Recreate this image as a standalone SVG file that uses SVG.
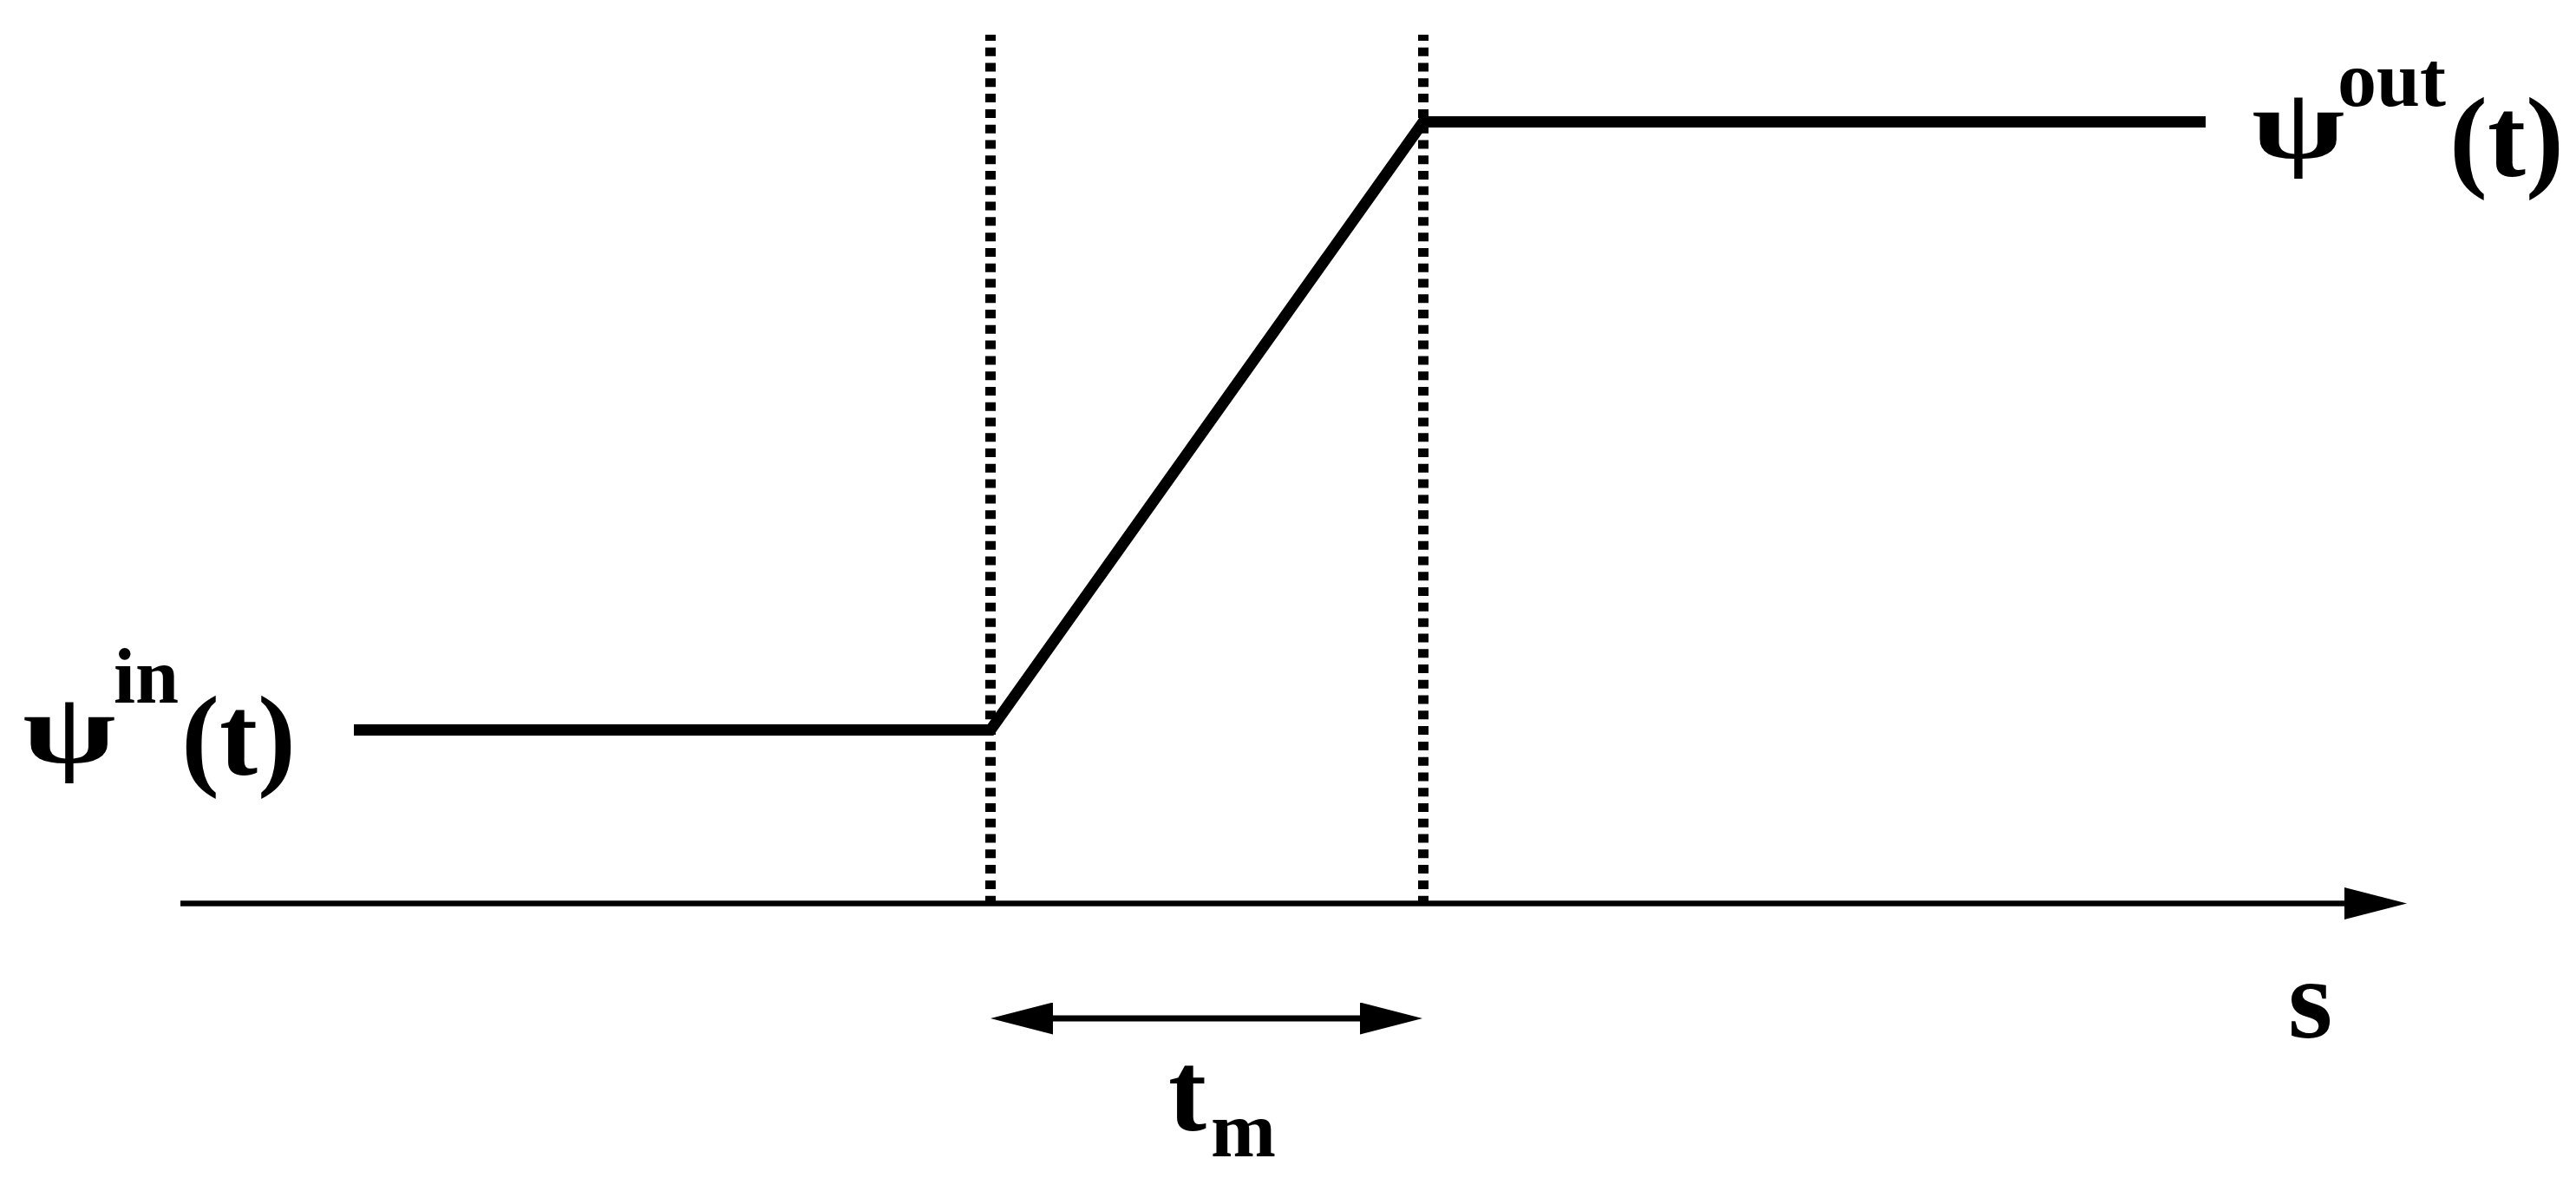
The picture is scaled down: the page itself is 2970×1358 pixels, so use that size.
<svg xmlns="http://www.w3.org/2000/svg" width="2970" height="1358" viewBox="0 0 2970 1358">
<defs>
<style>
.lbl{font-family:"Liberation Serif","Times New Roman",serif;font-weight:bold;fill:#000}
.main{font-size:132px}
.sup{font-size:90px}
.psi{font-family:"Liberation Serif","Times New Roman",serif;font-weight:bold;font-size:120px;fill:#000}
.curve{fill:none;stroke:#000;stroke-width:13;stroke-linejoin:miter}
.dot{fill:none;stroke:#000;stroke-width:12;stroke-dasharray:10 7.78;stroke-dashoffset:3}
.axis{fill:none;stroke:#000;stroke-width:6.5}
.dim{fill:none;stroke:#000;stroke-width:7}
</style>
<marker id="ah" markerUnits="userSpaceOnUse" markerWidth="72" markerHeight="37" viewBox="0 0 72 37" refX="52" refY="18.5" orient="auto-start-reverse">
<path d="M0,0 L72,18.5 L0,37 z" fill="#000"/>
</marker>
</defs>
<rect width="2970" height="1358" fill="#fff"/>
<g id="connectors">
<line id="axis-s" class="axis" x1="208" y1="1041.5" x2="2755" y2="1041.5" marker-end="url(#ah)"/>
<line id="guide-left" class="dot" x1="1142" y1="40" x2="1142" y2="1041"/>
<line id="guide-right" class="dot" x1="1641" y1="40" x2="1641" y2="1041"/>
<polyline id="profile" class="curve" points="408,841.5 1142,841.5 1641,140.5 2543,140.5"/>
<line id="dim-tm" class="dim" x1="1162" y1="1174" x2="1620" y2="1174" marker-start="url(#ah)" marker-end="url(#ah)"/>
</g>
<g id="label-psi-in">
<text class="psi" transform="translate(26,879) scale(1.3,0.95)">ψ</text>
<text class="lbl sup" x="131" y="810">in</text>
<text class="lbl main" x="209" y="893">(t)</text>
</g>
<g id="label-psi-out">
<text class="psi" transform="translate(2596,182) scale(1.3,0.95)">ψ</text>
<text class="lbl sup" x="2695" y="122">out</text>
<text class="lbl main" x="2824" y="203">(t)</text>
</g>
<g id="label-s">
<text class="lbl main" x="2638" y="1196">s</text>
</g>
<g id="label-tm">
<text class="lbl main" x="1347" y="1303">t</text>
<text class="lbl sup" x="1396" y="1333">m</text>
</g>
</svg>
